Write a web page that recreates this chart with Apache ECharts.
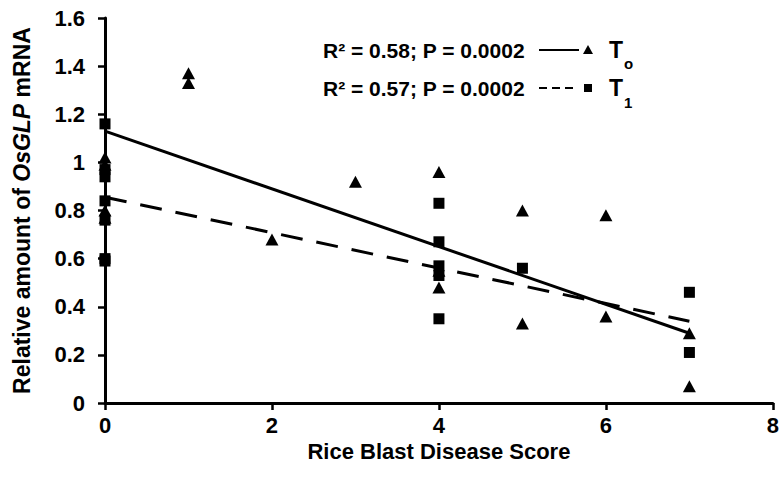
<!DOCTYPE html>
<html>
<head>
<meta charset="utf-8">
<script src="https://cdn.jsdelivr.net/npm/echarts@6/dist/echarts.min.js"></script>
<style>
html,body{margin:0;padding:0;background:#fff;}
#chart{width:782px;height:482px;}
</style>
</head>
<body>
<div id="chart"></div>
<script>
// Sampling time T0: disease score and relative OsGLP transcript level per plant
const t0Score = [0, 0, 0, 0, 1, 1, 2, 3, 4, 4, 4, 5, 5, 6, 6, 7, 7];
const t0Level = [1.02, 0.99, 0.80, 0.77, 1.37, 1.33, 0.68, 0.92, 0.96, 0.55, 0.48, 0.80, 0.33, 0.78, 0.36, 0.29, 0.07];
// Sampling time T1
const t1Score = [0, 0, 0, 0, 0, 0, 0, 4, 4, 4, 4, 4, 5, 7, 7];
const t1Level = [1.16, 0.97, 0.94, 0.84, 0.76, 0.60, 0.59, 0.83, 0.67, 0.57, 0.53, 0.35, 0.56, 0.46, 0.21];
// Linear trend lines (end points)
const t0TrendScore = [0, 7];
const t0TrendLevel = [1.13, 0.29];
const t1TrendScore = [0, 7];
const t1TrendLevel = [0.855, 0.34];
// Axis ranges
const xRange = {min: 0, max: 8, step: 2};
const yRange = {min: 0, max: 1.6, step: 0.2};
// Legend statistics
const statsT0 = 'R\u00B2 = 0.58; P = 0.0002';
const statsT1 = 'R\u00B2 = 0.57; P = 0.0002';

const FONT = '"Liberation Sans", Arial, sans-serif';
const zip = (xs, ys) => xs.map((x, i) => [x, ys[i]]);

const chart = echarts.init(document.getElementById('chart'), null, {renderer: 'svg'});

const axisCommon = {
  type: 'value',
  axisLine: {show: true, onZero: false, lineStyle: {color: '#000', width: 3}},
  axisTick: {show: true, inside: false, length: 7, lineStyle: {color: '#000', width: 2.5}},
  splitLine: {show: false},
  axisLabel: {color: '#000', fontFamily: FONT, fontWeight: 'bold', fontSize: 22}
};

const legendX = 323;
const row1 = 50, row2 = 88;
const legendText = (text, x, y, size) => ({
  type: 'text', x: x, y: y,
  style: {text: text, fill: '#000', font: 'bold ' + size + 'px ' + FONT, textVerticalAlign: 'middle'}
});

chart.setOption({
  animation: false,
  backgroundColor: '#fff',
  grid: {left: 105, right: 7, top: 18, bottom: 79, containLabel: false},
  xAxis: Object.assign({}, axisCommon, {
    min: xRange.min, max: xRange.max, interval: xRange.step,
    axisLabel: Object.assign({}, axisCommon.axisLabel, {margin: 11}),
    name: 'Rice Blast Disease Score', nameLocation: 'middle', nameGap: 33,
    nameTextStyle: {color: '#000', fontFamily: FONT, fontWeight: 'bold', fontSize: 22}
  }),
  yAxis: Object.assign({}, axisCommon, {
    min: yRange.min, max: yRange.max, interval: yRange.step,
    axisLabel: Object.assign({}, axisCommon.axisLabel, {margin: 20}),
    name: '{a|Relative amount of }{b|OsGLP}{a| mRNA}', nameLocation: 'middle', nameGap: 72,
    nameTextStyle: {
      color: '#000',
      rich: {
        a: {fontFamily: FONT, fontWeight: 'bold', fontSize: 23, color: '#000'},
        b: {fontFamily: FONT, fontWeight: 'bold', fontStyle: 'italic', fontSize: 23, color: '#000'}
      }
    }
  }),
  series: [
    {
      name: 'T0 trend', type: 'line', data: zip(t0TrendScore, t0TrendLevel),
      symbol: 'none', lineStyle: {color: '#000', width: 3, type: 'solid'}, z: 3
    },
    {
      name: 'T1 trend', type: 'line', data: zip(t1TrendScore, t1TrendLevel),
      symbol: 'none', lineStyle: {color: '#000', width: 3, type: [22, 14]}, z: 3
    },
    {
      name: 'T0', type: 'scatter', data: zip(t0Score, t0Level),
      symbol: 'triangle', symbolSize: [13, 12], itemStyle: {color: '#000', opacity: 1}, z: 4
    },
    {
      name: 'T1', type: 'scatter', data: zip(t1Score, t1Level),
      symbol: 'rect', symbolSize: 11, itemStyle: {color: '#000', opacity: 1}, z: 4
    }
  ],
  graphic: [
    legendText(statsT0, legendX, row1, 21),
    legendText(statsT1, legendX, row2, 21),
    {type: 'line', shape: {x1: 539, y1: row1, x2: 579, y2: row1}, style: {stroke: '#000', lineWidth: 2}},
    {type: 'polygon', shape: {points: [[588, row1 - 5], [583, row1 + 4], [593, row1 + 4]]}, style: {fill: '#000'}},
    {type: 'line', shape: {x1: 539, y1: row2, x2: 578, y2: row2}, style: {stroke: '#000', lineWidth: 2, lineDash: [8, 5]}},
    {type: 'rect', shape: {x: 584, y: row2 - 4, width: 8, height: 8}, style: {fill: '#000'}},
    legendText('T', 609, row1, 23),
    legendText('o', 624, row1 + 13, 15),
    legendText('T', 609, row2, 23),
    legendText('1', 624, row2 + 14, 15)
  ]
});
</script>
</body>
</html>
